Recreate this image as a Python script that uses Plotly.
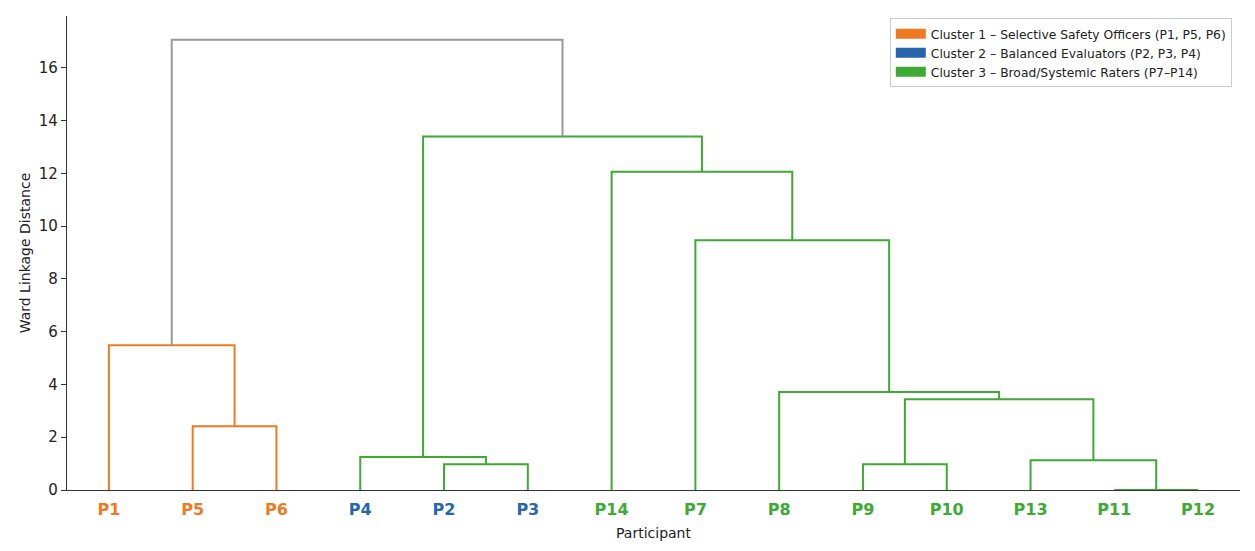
import plotly.graph_objects as go

# ---- data ----
leaf_labels = ["P1", "P5", "P6", "P4", "P2", "P3", "P14", "P7", "P8", "P9", "P10", "P13", "P11", "P12"]
leaf_cluster = [1, 1, 1, 2, 2, 2, 3, 3, 3, 3, 3, 3, 3, 3]
# merges: (left node, right node, height); node ids < 14 are leaves (in display order), >=14 are earlier merges
merge_left = [12, 4, 9, 11, 3, 1, 16, 8, 0, 7, 6, 18, 22]
merge_right = [13, 5, 10, 14, 15, 2, 17, 20, 19, 21, 23, 24, 25]
merge_height = [0.0, 0.98, 0.98, 1.13, 1.25, 2.42, 3.44, 3.71, 5.48, 9.46, 12.06, 13.39, 17.06]
merge_group = [3, 3, 3, 3, 3, 1, 3, 3, 1, 3, 3, 3, 0]  # 0 = above threshold (grey)

cluster_names = {
    1: "Cluster 1 \u2013 Selective Safety Officers (P1, P5, P6)",
    2: "Cluster 2 \u2013 Balanced Evaluators (P2, P3, P4)",
    3: "Cluster 3 \u2013 Broad/Systemic Raters (P7\u2013P14)",
}
colors = {0: "#999999", 1: "#F07A22", 2: "#2566AC", 3: "#3DAA33"}

n = len(leaf_labels)
xpos = {i: 5 + 10 * i for i in range(n)}
ypos = {i: 0.0 for i in range(n)}

fig = go.Figure()
for k, (a, b, h) in enumerate(zip(merge_left, merge_right, merge_height)):
    xa, xb = xpos[a], xpos[b]
    ya, yb = ypos[a], ypos[b]
    fig.add_trace(go.Scatter(
        x=[xa, xa, xb, xb], y=[ya, h, h, yb], mode="lines",
        line=dict(color=colors[merge_group[k]], width=2),
        showlegend=False, hoverinfo="skip"))
    xpos[n + k] = (xa + xb) / 2
    ypos[n + k] = h

for c in [1, 2, 3]:
    fig.add_trace(go.Scatter(
        x=[None], y=[None], mode="lines", name=cluster_names[c],
        line=dict(color=colors[c], width=10), showlegend=True))

ticktext = [f'<span style="color:{colors[c]}"><b>{l}</b></span>'
            for l, c in zip(leaf_labels, leaf_cluster)]

fig.update_layout(
    width=1255, height=551,
    margin=dict(l=67, r=15, t=16, b=61),
    paper_bgcolor="white", plot_bgcolor="white",
    font=dict(family="DejaVu Sans", size=13, color="#222"),
    legend=dict(x=0.993, y=0.995, xanchor="right", yanchor="top",
                bordercolor="#cccccc", borderwidth=1, bgcolor="white",
                font=dict(size=12.3, color="#222"), itemwidth=30,
                tracegroupgap=0),
    xaxis=dict(range=[0, 140], tickmode="array",
               tickvals=[5 + 10 * i for i in range(n)], ticktext=ticktext,
               tickfont=dict(size=16), ticks="", ticklabelstandoff=5,
               showgrid=False, zeroline=False,
               showline=True, linecolor="#333", linewidth=1.2,
               title=dict(text="Participant", font=dict(size=14), standoff=9)),
    yaxis=dict(range=[0, 17.96], tickmode="array", tickvals=list(range(0, 17, 2)),
               ticks="outside", ticklen=5, tickcolor="#333", tickfont=dict(size=15),
               showgrid=False, zeroline=False, showline=True, linecolor="#333", linewidth=1.2,
               title=dict(text="Ward Linkage Distance", font=dict(size=14), standoff=4)),
)

fig.write_html("out.html")
